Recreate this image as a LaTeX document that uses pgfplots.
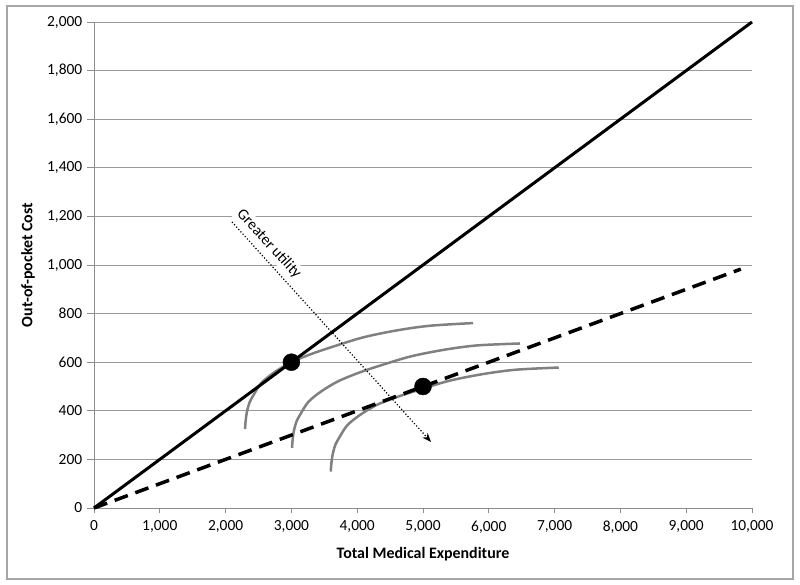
\documentclass[border=0pt]{standalone}
\usepackage{pgfplots}
\pgfplotsset{compat=1.18}
\usepackage{fontspec}
\setmainfont{Carlito}
\usetikzlibrary{arrows.meta}
\begin{document}
\begin{tikzpicture}[x=1bp,y=1bp]
\path (0,0) rectangle (800,585);
\draw[black!35, line width=1.2bp] (7,6) rectangle (793,579);
\begin{axis}[
  at={(94bp,77bp)}, anchor=south west,
  scale only axis, width=658bp, height=486bp,
  xmin=0, xmax=10000, ymin=0, ymax=2000,
  xtick={0,1000,...,10000}, ytick={0,200,...,2000},
  scaled x ticks=false, scaled y ticks=false,
  axis lines=left,
  axis line style={-, draw=black!45, line width=0.8bp},
  tick style={draw=black!45, line width=0.8bp},
  tick align=outside,
  x tick style={/pgfplots/major tick length=5bp},
  y tick style={/pgfplots/major tick length=7bp},
  ymajorgrids, grid style={black!40, line width=0.8bp},
  clip=false,
  /pgf/number format/assume math mode=true,
  /pgf/number format/.cd, 1000 sep={,},
  /pgfplots/.cd,
  ticklabel style={font=\fontsize{15.5}{17}\selectfont, black},
  yticklabel style={xshift=-4bp},
  xticklabel style={yshift=-5bp},
  xlabel={Total Medical Expenditure},
  ylabel={Out-of-pocket Cost},
  every axis x label/.style={at={(rel axis cs:0.5,0)}, yshift=-46bp, anchor=center, font=\fontsize{16}{18}\selectfont\bfseries},
  every axis y label/.style={at={(rel axis cs:0,0.5)}, xshift=-66bp, rotate=90, anchor=center, font=\fontsize{16}{18}\selectfont\bfseries},
]
% indifference curves
\addplot[black!50, line width=2.5bp, smooth] coordinates {
(2295,325) (2305,360) (2325,397) (2365,435) (2425,465) (2545,515) (2745,559) (3000,600) (3295,633) (3587,660) (4088,702) (4605,731) (5106,750) (5760,761)};
\addplot[black!50, line width=2.5bp, smooth] coordinates {
(3009,247) (3019,282) (3039,319) (3079,357) (3139,387) (3259,437) (3459,481) (3714,522) (4009,555) (4301,582) (4802,623) (5319,651) (5820,669) (6474,677)};
\addplot[black!50, line width=2.5bp, smooth] coordinates {
(3598,150) (3608,185) (3628,222) (3668,260) (3728,290) (3848,340) (4048,384) (4303,425) (4598,456) (4890,482) (5391,523) (5908,551) (6409,569) (7063,578)};
% budget lines
\addplot[black, line width=3bp] coordinates {(0,0) (10000,2000)};
\addplot[black, line width=3.5bp, dash pattern=on 14bp off 8bp] coordinates {(0,0) (9830,983)};
% arrow
\addplot[black, line width=1.2bp, dotted, -{Stealth[length=9bp,width=7bp]}] coordinates {(2097,1177) (5122,272)};
\node[rotate=-47.5, fill=white, inner sep=2bp, font=\fontsize{15.5}{17}\selectfont] at (axis cs:2660,1086) {Greater utility};
% optimum points
\addplot[only marks, mark=*, mark size=8.5bp, black] coordinates {(3000,600) (5000,500)};
\end{axis}
\end{tikzpicture}
\end{document}
